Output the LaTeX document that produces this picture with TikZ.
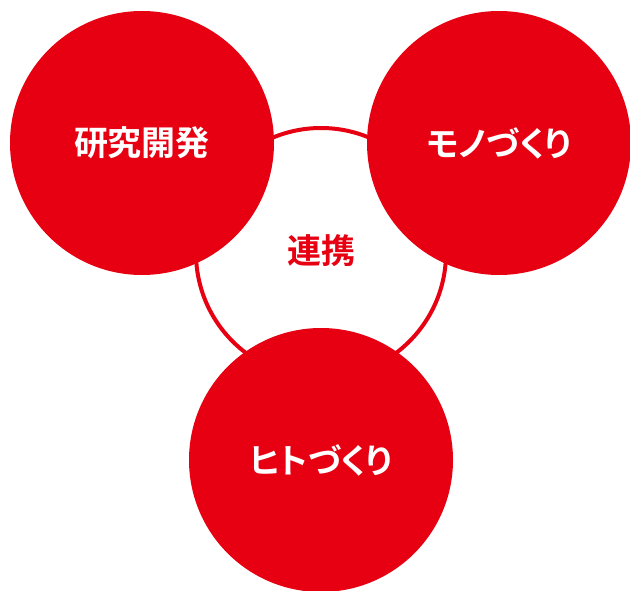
\documentclass[tikz,border=0pt]{standalone}
\usepackage{fontspec}
\newfontfamily\jpfont{Noto Sans CJK JP}[BoldFont={Noto Sans CJK JP Bold},RawFeature=+palt]
\definecolor{brandred}{HTML}{E60012}
\begin{document}
\begin{tikzpicture}[x=1pt,y=-1pt,
  labelfont/.style={font=\jpfont\bfseries\fontsize{34pt}{40pt}\selectfont},
  bigcircle/.style={circle,fill=brandred,minimum size=264pt,inner sep=0pt,text=white,labelfont},
  ring/.style={circle,draw=brandred,line width=4pt,minimum size=250pt,inner sep=0pt}]
\clip (0,0) rectangle (630,591);
\fill[white] (0,0) rectangle (630,591);
\node[ring] (link) at (321,253) {};
\node[text=brandred,labelfont] (linktext) at (321,251) {連携};
\node[bigcircle] (rd) at (142,143) {研究開発};
\node[bigcircle] (mono) at (499,143) {モノづくり};
\node[bigcircle] (hito) at (321,460) {ヒトづくり};
\end{tikzpicture}
\end{document}
